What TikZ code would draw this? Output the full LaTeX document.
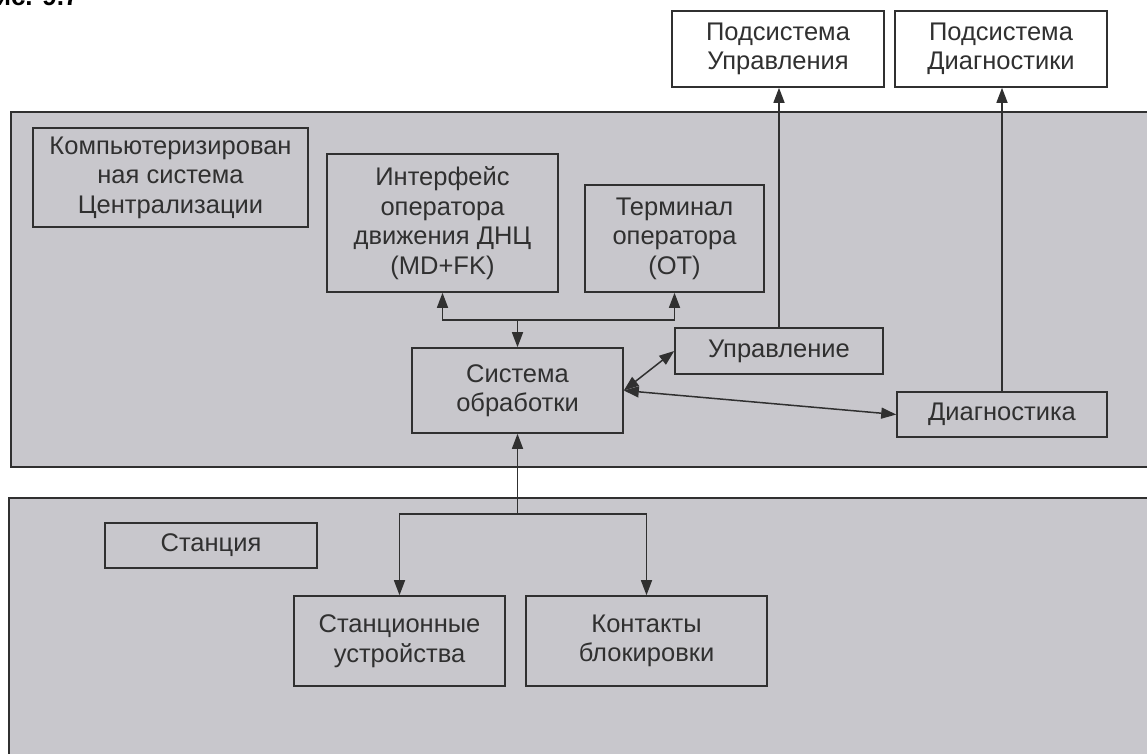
\documentclass[tikz,border=0pt]{standalone}
\usepackage{fontspec}
\setmainfont{Liberation Sans}
\usepackage{tikz}
\usetikzlibrary{positioning, arrows.meta}
\usepackage{xcolor}
\definecolor{panelgray}{RGB}{200,199,204}
\definecolor{inkgray}{RGB}{48,48,48}

\begin{document}
\begin{tikzpicture}[x=1pt,y=-1pt,
    every node/.style={font=\fontsize{25.5}{29.5}\selectfont, text=inkgray, align=center},
    blk/.style={draw=inkgray, line width=1.6pt, inner sep=0pt},
    panel/.style={draw=inkgray, line width=1.8pt, fill=panelgray},
    link/.style={draw=inkgray, line width=1.5pt},
    >={Triangle[length=15pt,width=11pt]}]
    \useasboundingbox (0,0) rectangle (1147,753);
    \fill[white] (0,0) rectangle (1147,753);
    % the two layers
    \draw[panel] (11,112) rectangle (1165,467);
    \draw[panel] (9,498) rectangle (1165,775);
    \node[font=\bfseries\fontsize{26}{30}\selectfont, text=black, anchor=base east] (figlabel) at (82,5) {Рис. 9.7};
    % outside subsystems
    \node[blk, fill=white, minimum width=212pt, minimum height=76pt] (subupr) at (778,49) {Подсистема\\Управления};
    \node[blk, fill=white, minimum width=212pt, minimum height=76pt] (subdiag) at (1001,49) {Подсистема\\Диагностики};
    % centralisation layer
    \node[blk, minimum width=275pt, minimum height=99pt] (compsys) at (170.5,177.5) {Компьютеризирован\\ная система\\Централизации};
    \node[blk, minimum width=231pt, minimum height=138pt] (iface) at (442.5,223) {Интерфейс\\оператора\\движения ДНЦ\\(MD+FK)};
    \node[blk, minimum width=179pt, minimum height=107pt] (term) at (674.5,238.5) {Терминал\\оператора\\(OT)};
    \node[blk, minimum width=211pt, minimum height=85pt] (proc) at (517.5,390.5) {Система\\обработки};
    \node[blk, minimum width=208pt, minimum height=46pt] (upr) at (779,351) {Управление};
    \node[blk, minimum width=210pt, minimum height=45pt] (diag) at (1002,414.5) {Диагностика};
    % station layer
    \node[blk, minimum width=212pt, minimum height=45pt] (station) at (211,545.5) {Станция};
    \node[blk, minimum width=211pt, minimum height=90pt] (devices) at (399.5,641) {Станционные\\устройства};
    \node[blk, minimum width=241pt, minimum height=90pt] (contacts) at (646.5,641) {Контакты\\блокировки};
    % connectors
    \coordinate (bus) at (517.5,320);
    \coordinate (split) at (517.5,514);
    \draw[link,->] (bus) -| (iface.south);
    \draw[link,->] (bus) -| (term.south);
    \draw[link,->] (bus) -- (proc.north);
    \draw[link,<->] (proc.east) -- (upr.west);
    \draw[link,<->] (proc.east) -- (diag.west);
    \draw[link,->] (upr.north) -- (upr.north |- subupr.south);
    \draw[link,->] (diag.north) -- (diag.north |- subdiag.south);
    \draw[link,->] (split) -- (proc.south);
    \draw[link,->] (split) -| (devices.north);
    \draw[link,->] (split) -| (contacts.north);
\end{tikzpicture}
\end{document}
